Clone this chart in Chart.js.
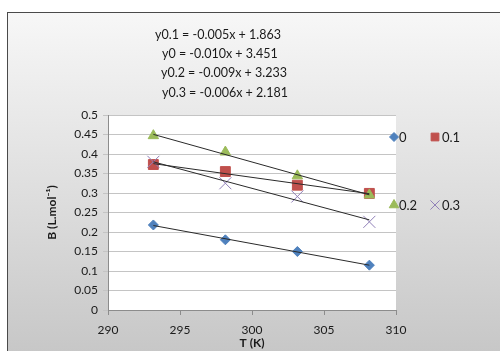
<!DOCTYPE html>
<html>
<head>
<meta charset="utf-8">
<script src="https://cdn.jsdelivr.net/npm/chart.js@4"></script>
<style>
  body { margin: 0; background: #fff; }
  #wrap { position: relative; width: 500px; height: 351px; overflow: hidden; }
  #frame {
    position: absolute; left: 7px; top: 12px; width: 520px; height: 360px;
    border-left: 1px solid #4a4a4a; border-top: 1px solid #4a4a4a;
    background: linear-gradient(to bottom, #f7f7f7 0%, #dedede 50%, #c4c4c4 100%);
  }
  canvas { position: absolute; left: 0; top: 0; }
</style>
</head>
<body>
<div id="wrap">
  <div id="frame"></div>
  <canvas id="chart" width="500" height="351"></canvas>
</div>
<script>
// Datos
const temps = [293.15, 298.15, 303.15, 308.15];
const serie0 = [0.218, 0.180, 0.150, 0.115];
const serie01 = [0.373, 0.355, 0.320, 0.299];
const serie02 = [0.447, 0.405, 0.344, 0.295];
const serie03 = [0.380, 0.325, 0.291, 0.226];
const seriesNames = ['0', '0.1', '0.2', '0.3'];
const ecuaciones = [
    'y0.1 = -0.005x + 1.863',
    'y0 = -0.010x + 3.451',
    'y0.2 = -0.009x + 3.233',
    'y0.3 = -0.006x + 2.181'
];

const colores = ['#4F81BD', '#C0504D', '#9BBB59', '#9080B8'];
const fuente = 'Lato, "Open Sans", sans-serif';

// Línea de tendencia (mínimos cuadrados) entre el primer y último punto
function tendencia(xs, ys) {
    const n = xs.length;
    const mx = xs.reduce((a, b) => a + b, 0) / n;
    const my = ys.reduce((a, b) => a + b, 0) / n;
    let num = 0, den = 0;
    for (let i = 0; i < n; i++) {
        num += (xs[i] - mx) * (ys[i] - my);
        den += (xs[i] - mx) * (xs[i] - mx);
    }
    const m = num / den;
    const b = my - m * mx;
    return [xs[0], xs[n - 1]].map(x => ({ x: x, y: m * x + b }));
}

function puntos(ys) {
    return temps.map((t, i) => ({ x: t, y: ys[i] }));
}

const todas = [serie0, serie01, serie02, serie03];
const estilos = ['rectRot', 'rect', 'triangle', 'crossRot'];
const radios = [5, 7, 6, 8.5];

const datasets = [];
todas.forEach((ys, i) => {
    datasets.push({
        label: seriesNames[i],
        data: puntos(ys),
        showLine: false,
        pointStyle: estilos[i],
        pointRadius: radios[i],
        backgroundColor: colores[i],
        borderColor: colores[i],
        borderWidth: 1,
        order: 5 - i  // las series posteriores quedan encima
    });
});
todas.forEach((ys, i) => {
    datasets.push({
        label: 'trend' + i,
        data: tendencia(temps, ys),
        showLine: true,
        pointRadius: 0,
        borderColor: '#2a2a2a',
        borderWidth: 1,
        order: 0
    });
});

// Fondo blanco del área de trazado, ecuaciones y leyenda
const extras = {
    id: 'extras',
    beforeDraw(chart) {
        const { ctx, chartArea } = chart;
        ctx.save();
        ctx.fillStyle = '#ffffff';
        ctx.fillRect(chartArea.left, chartArea.top, chartArea.right - chartArea.left, chartArea.bottom - chartArea.top);
        ctx.restore();
    },
    afterDraw(chart) {
        const ctx = chart.ctx;
        ctx.save();
        ctx.font = '12.5px ' + fuente;
        ctx.fillStyle = '#1a1a1a';
        ctx.textBaseline = 'middle';
        ctx.textAlign = 'left';
        const xs = [155, 162, 161, 162];
        const ys = [35, 54, 73, 93];
        ecuaciones.forEach((t, i) => ctx.fillText(t, xs[i], ys[i]));

        // leyenda 2x2
        const pos = [[394, 137], [435, 137], [394, 205], [435, 205]];
        const radiosLeyenda = [4.5, 5.5, 5.5, 6.5];
        pos.forEach((p, i) => {
            ctx.save();
            ctx.fillStyle = colores[i];
            ctx.strokeStyle = colores[i];
            ctx.lineWidth = 1;
            Chart.helpers.drawPoint(ctx, {
                pointStyle: estilos[i],
                radius: radiosLeyenda[i],
                borderWidth: 1
            }, p[0], p[1]);
            ctx.restore();
            ctx.fillStyle = '#1a1a1a';
            ctx.font = '13px ' + fuente;
            ctx.fillText(seriesNames[i], p[0] + (i % 2 === 0 ? 5 : 7), p[1] + 1);
        });
        ctx.restore();
    }
};

const ctx = document.getElementById('chart').getContext('2d');
new Chart(ctx, {
    type: 'scatter',
    data: { datasets: datasets },
    plugins: [extras],
    options: {
        responsive: false,
        animation: false,
        layout: { padding: { top: 115, right: 104, left: 0, bottom: 0 } },
        plugins: {
            legend: { display: false },
            tooltip: { enabled: false },
            title: { display: false }
        },
        scales: {
            x: {
                type: 'linear',
                min: 290,
                max: 310,
                ticks: {
                    stepSize: 5,
                    color: '#1a1a1a',
                    font: { family: fuente, size: 12 },
                    padding: 8
                },
                grid: { drawOnChartArea: false, drawTicks: true, tickLength: 5, color: '#8c8c8c' },
                border: { color: '#8c8c8c' },
                title: {
                    display: true,
                    text: 'T (K)',
                    color: '#1a1a1a',
                    font: { family: fuente, size: 12, weight: 'bold' },
                    padding: { top: 0, bottom: 1 }
                },
                afterFit(scale) { scale.height = 41; }
            },
            y: {
                min: 0,
                max: 0.5,
                ticks: {
                    stepSize: 0.05,
                    color: '#1a1a1a',
                    font: { family: fuente, size: 12 },
                    padding: 5,
                    callback: v => Math.round(v * 100) / 100
                },
                grid: { color: '#c4c4c4', drawTicks: true, tickLength: 5 },
                border: { color: '#8c8c8c' },
                title: {
                    display: true,
                    text: 'B (L.mol⁻¹)',
                    color: '#1a1a1a',
                    font: { family: fuente, size: 12, weight: 'bold' },
                    padding: { top: 45, bottom: 0 }
                },
                afterFit(scale) { scale.width = 108; }
            }
        }
    }
});
</script>
</body>
</html>
